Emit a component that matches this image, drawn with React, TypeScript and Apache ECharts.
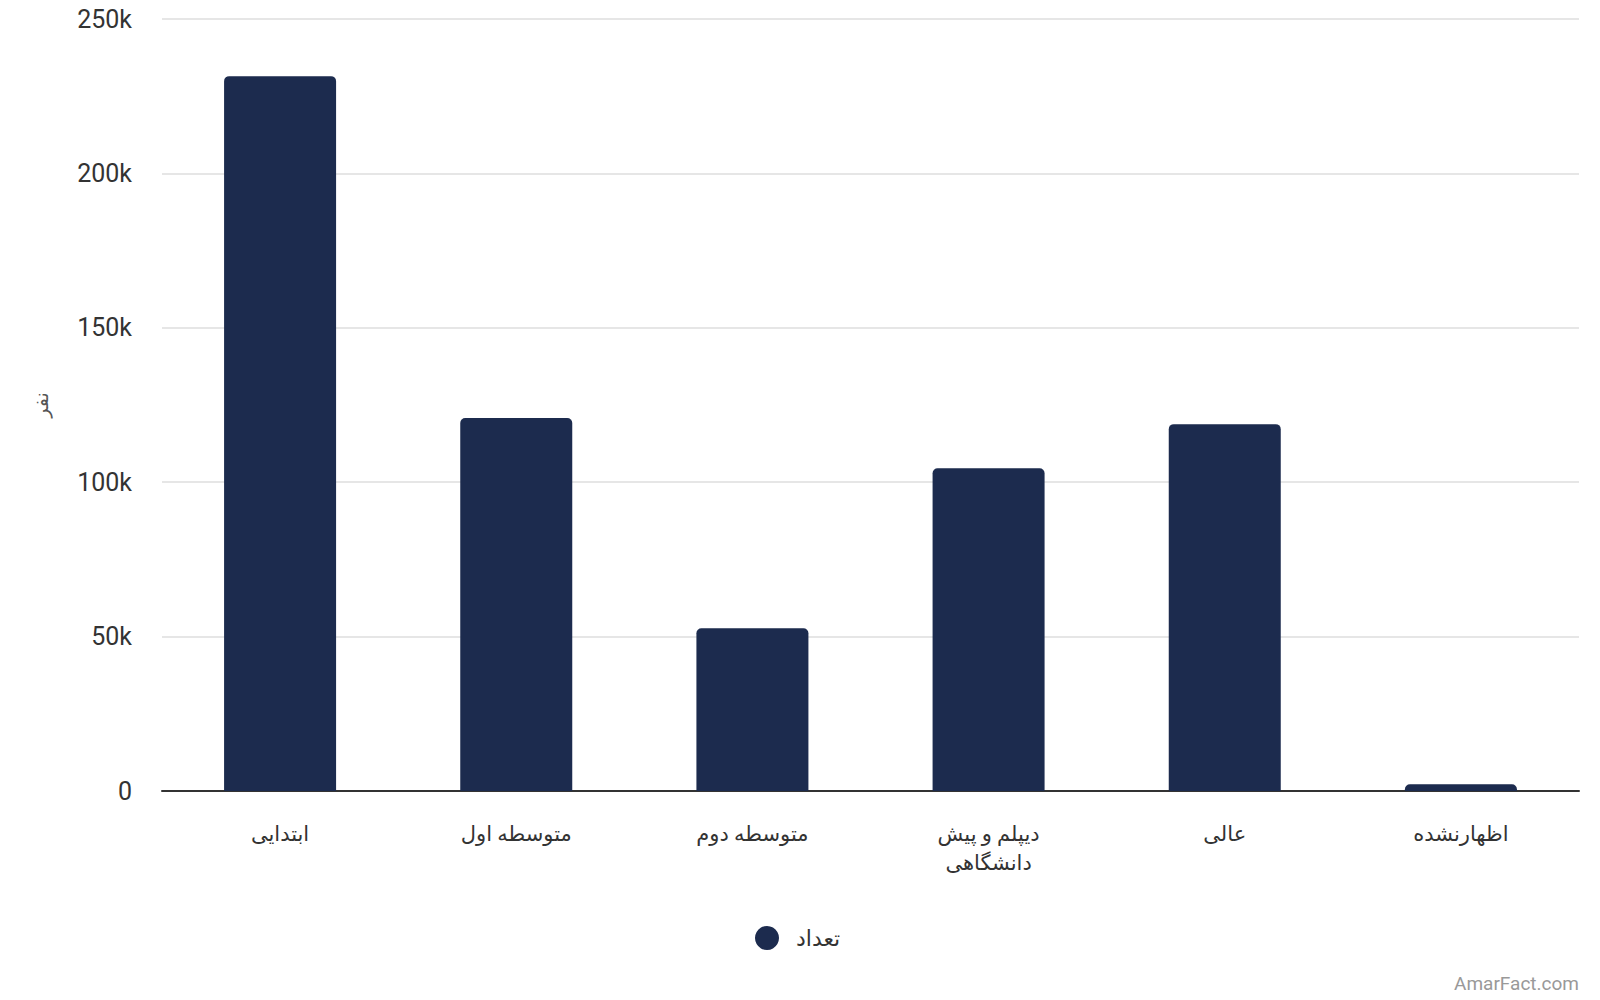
import React, { useEffect, useRef } from 'react';
import * as echarts from 'echarts';

// دسته‌ها و مقادیر
const categories = ['ابتدایی', 'متوسطه اول', 'متوسطه دوم', 'دیپلم و پیش\nدانشگاهی', 'عالی', 'اظهارنشده'];
const counts = [231500, 120800, 52700, 104500, 118800, 2200];
const seriesName = 'تعداد';
const yAxisName = 'نفر';
const watermark = 'AmarFact.com';

const FONT = "Roboto, 'DejaVu Sans', sans-serif";

const App: React.FC = () => {
  const chartRef = useRef<HTMLDivElement>(null);

  useEffect(() => {
    if (!chartRef.current) return;
    const chart = echarts.init(chartRef.current, undefined, { renderer: 'svg' });

    const option = {
      animation: false,
      textStyle: { fontFamily: FONT },
      grid: { left: 162, right: 21, top: 19, bottom: 209, containLabel: false },
      legend: {
        data: [seriesName],
        left: 750,
        top: 921,
        icon: 'circle',
        itemWidth: 24,
        itemHeight: 24,
        itemGap: 10,
        textStyle: { fontSize: 22, color: '#333', fontFamily: FONT, padding: [0, 0, 0, 12] }
      },
      xAxis: {
        type: 'category',
        data: categories,
        axisLine: { lineStyle: { color: '#333', width: 2 } },
        axisTick: { show: false },
        axisLabel: {
          color: '#333',
          fontSize: 21,
          margin: 28,
          lineHeight: 29,
          interval: 0,
          fontFamily: FONT
        }
      },
      yAxis: {
        type: 'value',
        min: 0,
        max: 250000,
        interval: 50000,
        name: yAxisName,
        nameLocation: 'middle',
        nameGap: 111,
        nameRotate: 90,
        nameTextStyle: { color: '#555', fontSize: 19, fontFamily: FONT },
        axisLine: { show: false },
        axisTick: { show: false },
        splitLine: { lineStyle: { color: '#e6e6e6', width: 2 } },
        axisLabel: {
          color: '#333',
          fontSize: 25,
          margin: 30,
          fontFamily: FONT,
          formatter: (v: number) => (v === 0 ? '0' : v / 1000 + 'k')
        }
      },
      series: [
        {
          name: seriesName,
          type: 'bar',
          data: counts,
          barWidth: 112,
          itemStyle: {
            color: '#1c2b4e',
            borderRadius: [5, 5, 0, 0]
          }
        }
      ],
      graphic: [
        {
          type: 'text',
          right: 21,
          bottom: 7,
          style: {
            text: watermark,
            fill: '#999',
            fontSize: 19,
            fontFamily: FONT
          }
        }
      ]
    };

    chart.setOption(option);

    return () => {
      chart.dispose();
    };
  }, []);

  return (
    <div
      ref={chartRef}
      style={{ position: 'fixed', left: 0, top: 0, width: '1600px', height: '1000px', background: '#fff' }}
    ></div>
  );
};

export default App;
